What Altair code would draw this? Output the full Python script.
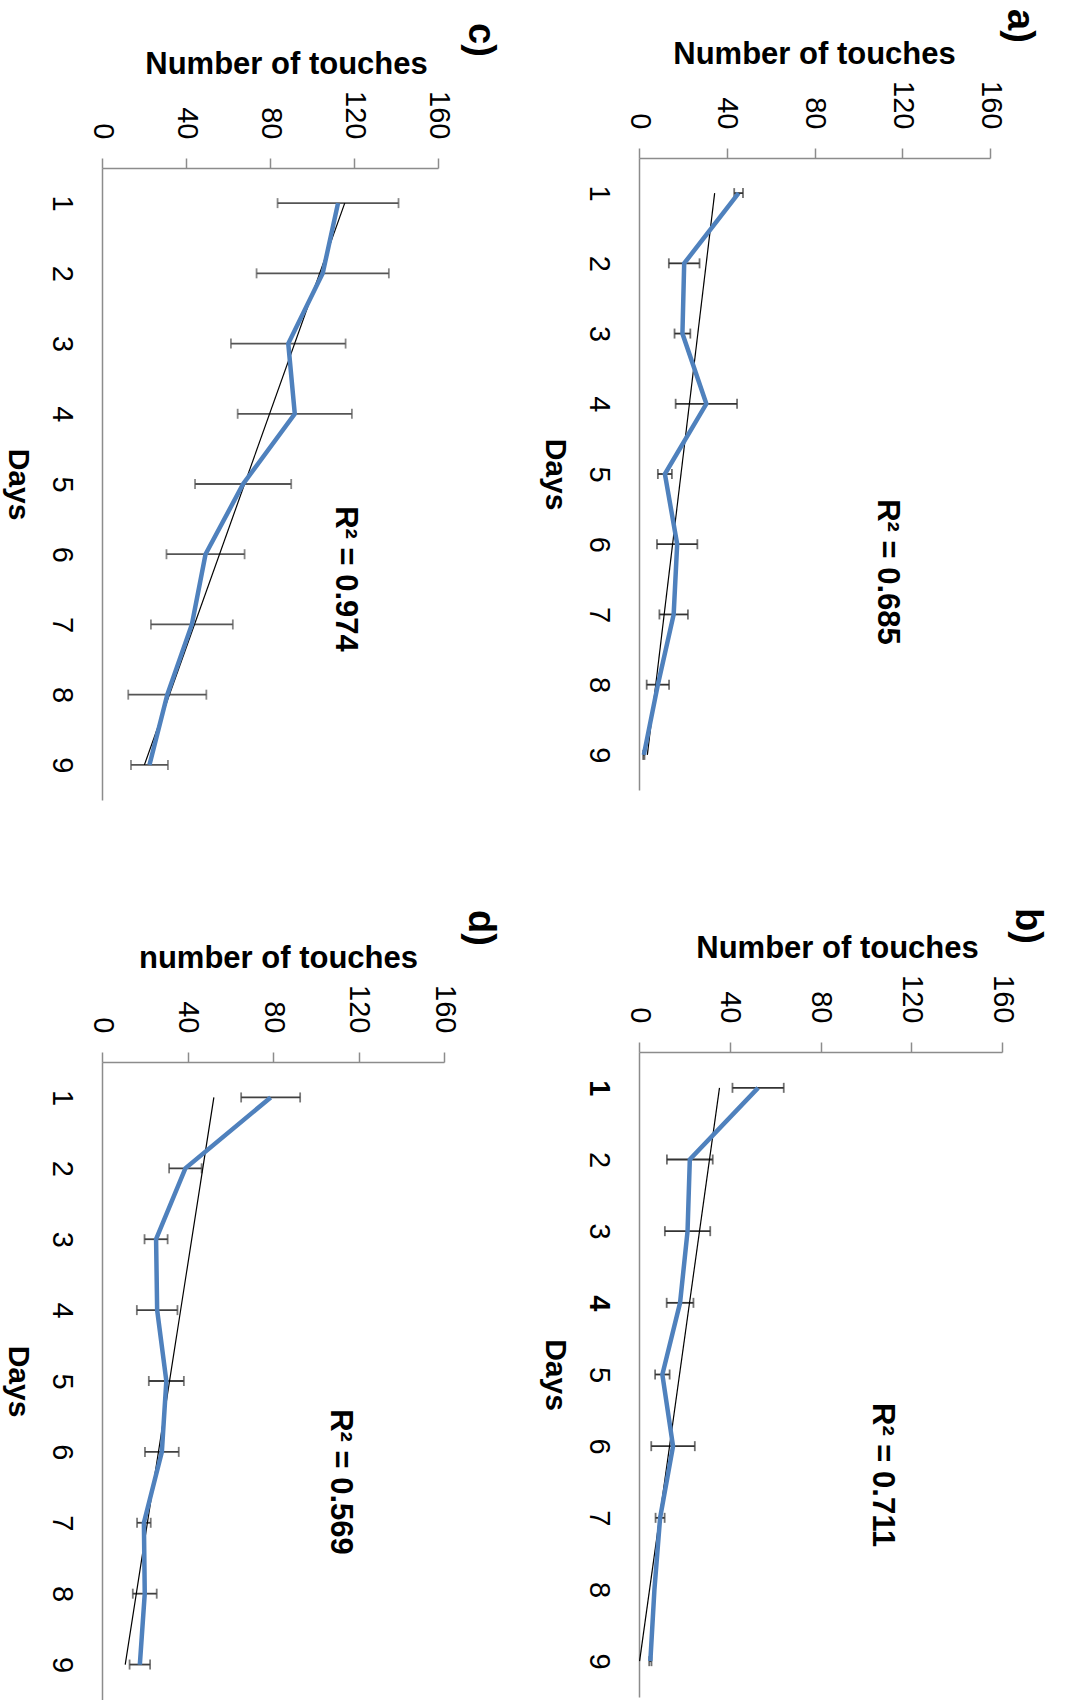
import altair as alt
import pandas as pd

# Days of the trial (shared by all four panels)
DAYS = [1, 2, 3, 4, 5, 6, 7, 8, 9]

# Mean number of touches per day and error-bar half widths
A_MEAN = [45.4, 20.6, 19.8, 30.7, 11.8, 17.4, 15.8, 8.6, 2.2]
A_ERR = [2.0, 7.0, 3.6, 14.0, 3.2, 9.2, 6.5, 5.1, 0.3]

B_MEAN = [52.5, 22.4, 21.4, 18.1, 10.3, 15.0, 9.3, 6.8, 5.0]
B_ERR = [11.3, 10.1, 10.0, 5.9, 3.2, 9.6, 2.0, 0.0, 0.5]

C_MEAN = [112.4, 105.1, 88.7, 91.8, 67.2, 49.3, 42.8, 31.1, 22.6]
C_ERR = [28.8, 31.5, 27.3, 27.2, 22.9, 18.6, 19.5, 18.6, 8.8]

D_MEAN = [78.9, 39.0, 25.3, 25.8, 30.1, 28.0, 19.6, 20.0, 17.7]
D_ERR = [13.8, 7.6, 5.4, 9.5, 8.2, 7.9, 3.2, 5.6, 4.8]

TOUCH_TICKS = [0, 40, 80, 120, 160]
R2_LABELS = {"a": "R\u00b2 = 0.685", "b": "R\u00b2 = 0.711", "c": "R\u00b2 = 0.974", "d": "R\u00b2 = 0.569"}
TAGS = {"a": "a)", "b": "b)", "c": "c)", "d": "d)"}

FONT = "Liberation Sans"
BLUE = "#4F81BD"
AXIS_GRAY = "#8c8c8c"

LEFT_COL_WIDTH = 342
COLUMN_GAP = 195
BOLD_DAYS = {"expr": "datum.value == 1 || datum.value == 4 ? 'bold' : 'normal'"}


def panel(mean, err, y_title, r2_text, tag, width, height, y_range, top_offset,
          title_x, r2_pos, tag_pos, err_color, day_weight="normal"):
    df = pd.DataFrame({"day": DAYS, "touches": mean, "err": err})
    base = alt.Chart(df).transform_calculate(
        lo="datum.touches - datum.err", hi="datum.touches + datum.err"
    )

    x_scale = alt.Scale(domain=[0, 160], nice=False, zero=True)
    y_scale = alt.Scale(domain=[0.5, 9.5], range=y_range, nice=False, zero=False)

    x_axis = alt.Axis(
        orient="top", values=TOUCH_TICKS, title=y_title, grid=False,
        offset=top_offset,
        labelAngle=90, labelAlign="right", labelBaseline="middle",
        labelPadding=19, labelFlush=False, labelOverlap=False, labelBound=False,
        tickSize=10, tickColor=AXIS_GRAY, tickWidth=1.5,
        domainColor=AXIS_GRAY, domainWidth=1.5,
        labelFont=FONT, labelFontSize=29, labelColor="#000000",
        titleFont=FONT, titleFontSize=31, titleFontWeight="bold", titleColor="#000000",
        titleX=title_x, titleY=-95, titleAlign="center", titleBaseline="alphabetic",
        titleAngle=0,
    )
    y_axis = alt.Axis(
        orient="left", values=DAYS, title="Days", grid=False,
        labelAngle=90, labelAlign="center", labelBaseline="top",
        labelPadding=27, labelFlush=False, labelOverlap=False, labelBound=False,
        ticks=False, tickSize=0,
        domainColor=AXIS_GRAY, domainWidth=1.5,
        labelFont=FONT, labelFontSize=29, labelColor="#000000",
        labelFontWeight=day_weight,
        titleFont=FONT, titleFontSize=30, titleFontWeight="bold", titleColor="#000000",
        titleAngle=90, titleAlign="center", titleBaseline="top",
        titleX=-70, titleY=(y_range[0] + y_range[1]) / 2,
    )

    y_enc = alt.Y("day:Q", scale=y_scale, axis=y_axis)

    bars = base.mark_rule(color=err_color, strokeWidth=1.8).encode(
        x=alt.X("lo:Q", scale=x_scale, axis=x_axis), x2="hi:Q", y=y_enc
    )
    cap_lo = base.mark_tick(orient="vertical", color=err_color, size=10, thickness=1.8).encode(
        x=alt.X("lo:Q", scale=x_scale, axis=x_axis), y=y_enc
    )
    cap_hi = base.mark_tick(orient="vertical", color=err_color, size=10, thickness=1.8).encode(
        x=alt.X("hi:Q", scale=x_scale, axis=x_axis), y=y_enc
    )
    series = base.mark_line(color=BLUE, strokeWidth=4.5).encode(
        x=alt.X("touches:Q", scale=x_scale, axis=x_axis), y=y_enc, order="day:Q"
    )
    trend = base.transform_regression("day", "touches").mark_line(
        color="#000000", strokeWidth=1.2
    ).encode(
        x=alt.X("touches:Q", scale=x_scale, axis=x_axis), y=y_enc, order="day:Q"
    )
    r2 = alt.Chart(pd.DataFrame({"t": [r2_text]})).mark_text(
        angle=90, font=FONT, fontSize=31, fontWeight="bold", color="#000000",
        align="center", baseline="middle",
    ).encode(x=alt.value(r2_pos[0]), y=alt.value(r2_pos[1]), text="t:N")
    label = alt.Chart(pd.DataFrame({"t": [tag]})).mark_text(
        angle=90, font=FONT, fontSize=38, fontWeight="bold", color="#000000",
        align="center", baseline="middle",
    ).encode(x=alt.value(tag_pos[0]), y=alt.value(tag_pos[1]), text="t:N")

    return alt.layer(bars, cap_lo, cap_hi, trend, series, r2, label).properties(
        width=width, height=height
    )


panel_c = panel(C_MEAN, C_ERR, "Number of touches", R2_LABELS["c"], TAGS["c"],
                336, 642, [10, 642], -10, 184, (243, 421), (378, -118), "#555555")
panel_d = panel(D_MEAN, D_ERR, "number of touches", R2_LABELS["d"], TAGS["d"],
                LEFT_COL_WIDTH, 638, [0, 638], 0, 176, (238, 420), (378, -134), "#404040")
panel_a = panel(A_MEAN, A_ERR, "Number of touches", R2_LABELS["a"], TAGS["a"],
                351, 632, [0, 632], 0, 175, (248, 414), (380, -132), "#333333")
panel_b = panel(B_MEAN, B_ERR, "Number of touches", R2_LABELS["b"], TAGS["b"],
                363, 645, [0, 645], 0, 198, (243, 423), (388, -126), "#333333",
                day_weight=BOLD_DAYS)

left = alt.vconcat(panel_c, panel_d, spacing=262, bounds="flush")
right = alt.vconcat(panel_a, panel_b, spacing=262, bounds="flush")

# with flush bounds the nested column contributes no width, so the gap
# between the two columns carries the left column's plot width as well
chart = alt.hconcat(left, right, spacing=LEFT_COL_WIDTH + COLUMN_GAP, bounds="flush").properties(
    padding={"left": 2, "top": 9, "right": 0, "bottom": 0},
    background="#ffffff",
).configure_view(stroke=None)

chart.save("out.html", embed_options={"renderer": "svg", "actions": False})
